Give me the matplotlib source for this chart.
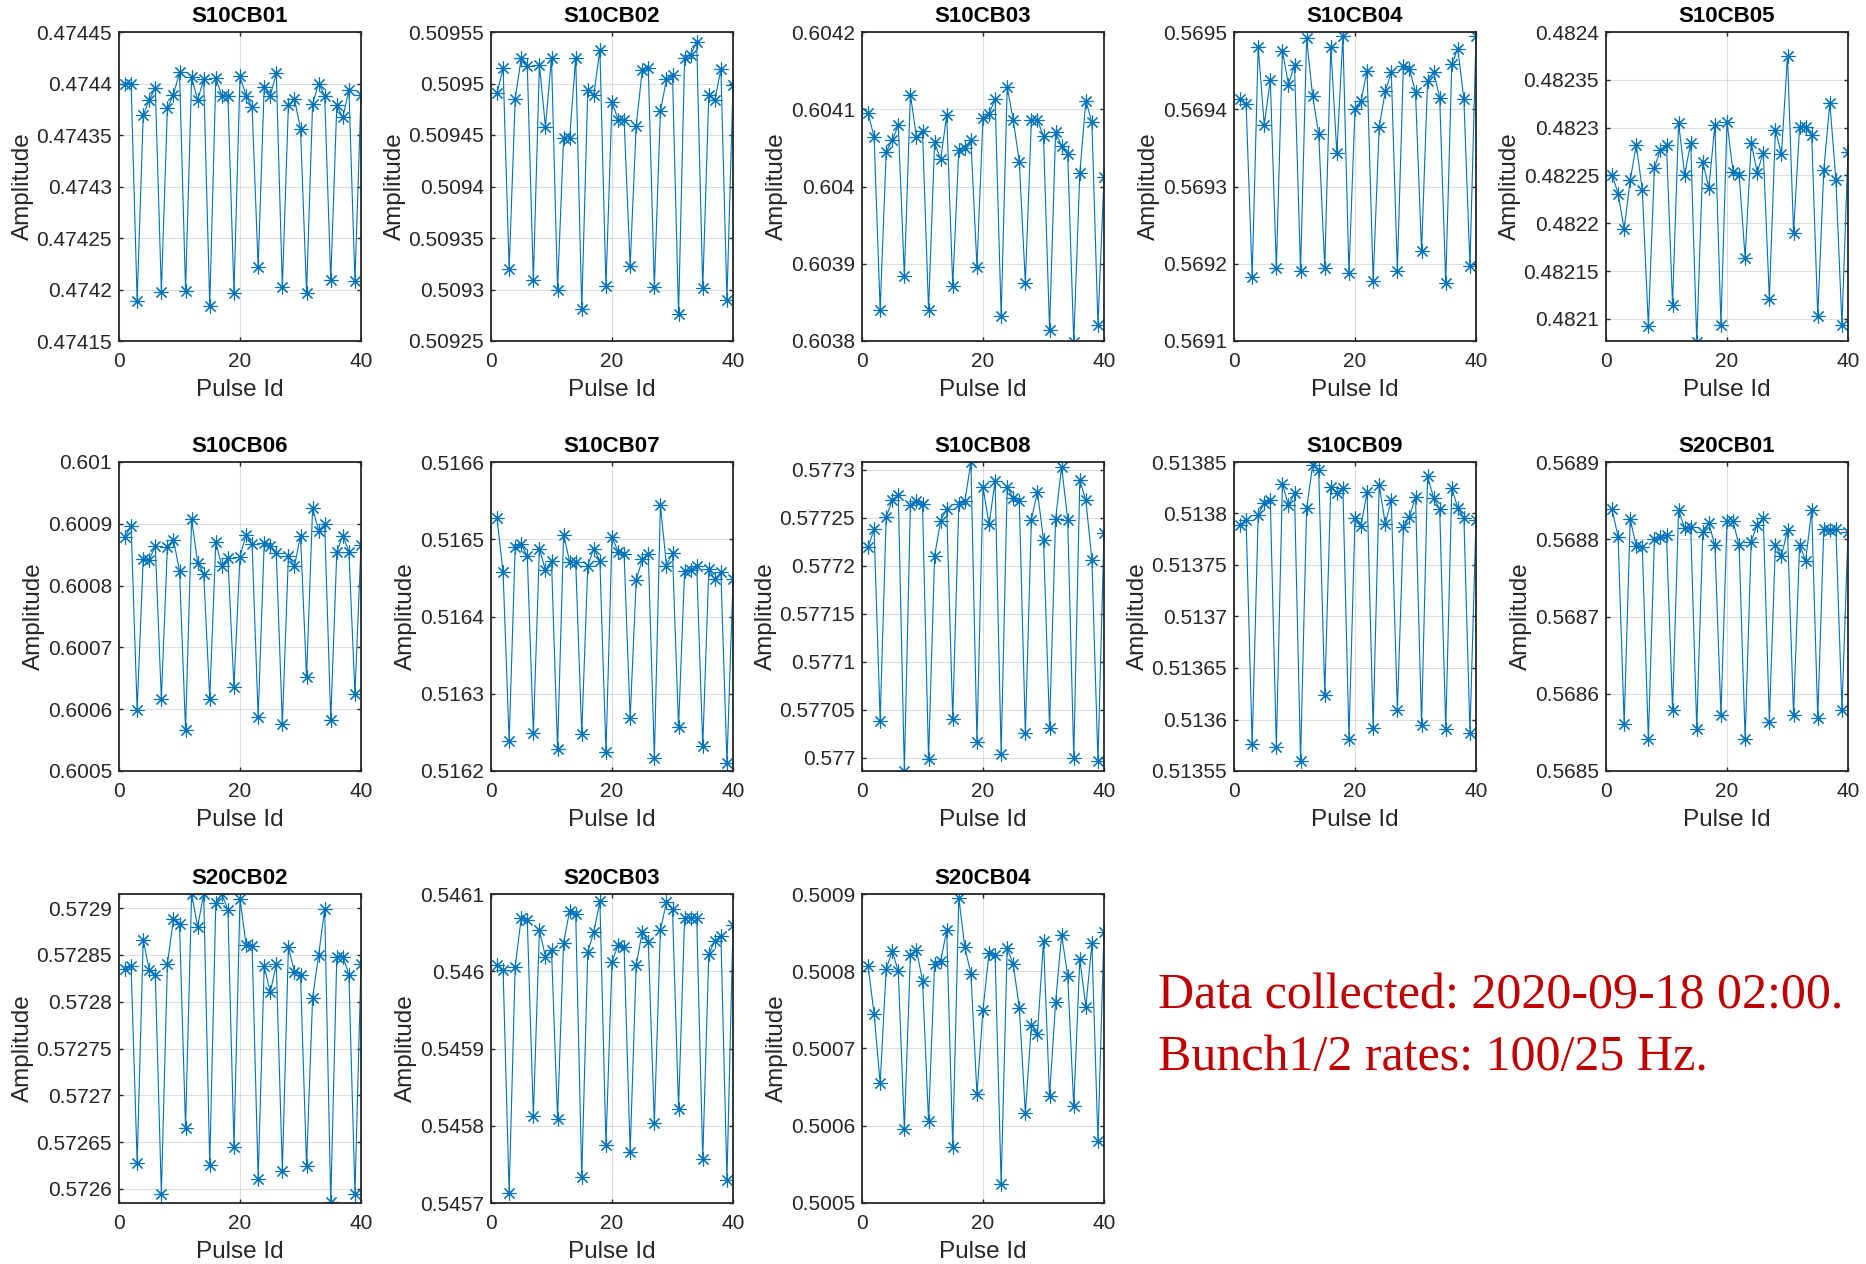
import matplotlib
matplotlib.use("Agg")
import matplotlib.pyplot as plt
import numpy as np

# pulse index
pulse_id = list(range(1, 41))

names = ["S10CB01", "S10CB02", "S10CB03", "S10CB04", "S10CB05",
         "S10CB06", "S10CB07", "S10CB08", "S10CB09", "S20CB01",
         "S20CB02", "S20CB03", "S20CB04"]

s10cb01 = [0.47440, 0.47440, 0.474189, 0.474369, 0.474384, 0.474396, 0.474198, 0.474376, 0.474389, 0.474411,
           0.474199, 0.474406, 0.474384, 0.474404, 0.474184, 0.474405, 0.474388, 0.474388, 0.474197, 0.474407,
           0.474388, 0.474377, 0.474222, 0.474397, 0.474388, 0.474410, 0.474202, 0.474379, 0.474385, 0.474356,
           0.474197, 0.474380, 0.474400, 0.474388, 0.474209, 0.474379, 0.474367, 0.474394, 0.474208, 0.474389]
s10cb02 = [0.509491, 0.509515, 0.509320, 0.509485, 0.509525, 0.509517, 0.509309, 0.509518, 0.509458, 0.509525,
           0.509300, 0.509447, 0.509447, 0.509525, 0.509281, 0.509494, 0.509489, 0.509533, 0.509303, 0.509482,
           0.509465, 0.509465, 0.509323, 0.509459, 0.509513, 0.509515, 0.509302, 0.509473, 0.509504, 0.509508,
           0.509276, 0.509525, 0.509528, 0.509540, 0.509301, 0.509489, 0.509484, 0.509514, 0.509290, 0.509499]
s10cb03 = [0.604095, 0.604064, 0.603840, 0.604045, 0.604060, 0.604079, 0.603884, 0.604119, 0.604064, 0.604072,
           0.603840, 0.604057, 0.604035, 0.604092, 0.603871, 0.604047, 0.604050, 0.604060, 0.603896, 0.604089,
           0.604094, 0.604113, 0.603832, 0.604129, 0.604086, 0.604032, 0.603875, 0.604086, 0.604086, 0.604065,
           0.603814, 0.604071, 0.604052, 0.604042, 0.603799, 0.604017, 0.604111, 0.604083, 0.603821, 0.604012]
s10cb04 = [0.569413, 0.569407, 0.569183, 0.569481, 0.569380, 0.569438, 0.569194, 0.569476, 0.569432, 0.569457,
           0.569190, 0.569492, 0.569417, 0.569368, 0.569195, 0.569481, 0.569343, 0.569495, 0.569188, 0.569400,
           0.569411, 0.569450, 0.569178, 0.569377, 0.569423, 0.569448, 0.569191, 0.569456, 0.569452, 0.569422,
           0.569216, 0.569437, 0.569448, 0.569415, 0.569175, 0.569459, 0.569478, 0.569413, 0.569197, 0.569495]
s10cb05 = [0.482251, 0.482231, 0.482194, 0.482245, 0.482282, 0.482235, 0.482093, 0.482258, 0.482277, 0.482282,
           0.482115, 0.482305, 0.482251, 0.482284, 0.482076, 0.482264, 0.482237, 0.482303, 0.482094, 0.482306,
           0.482254, 0.482251, 0.482164, 0.482284, 0.482253, 0.482274, 0.482121, 0.482298, 0.482272, 0.482375,
           0.482190, 0.482301, 0.482301, 0.482292, 0.482103, 0.482256, 0.482326, 0.482245, 0.482094, 0.482275]
s10cb06 = [0.600879, 0.600896, 0.600599, 0.600843, 0.600842, 0.600864, 0.600616, 0.600863, 0.600874, 0.600824,
           0.600567, 0.600908, 0.600837, 0.600819, 0.600617, 0.600870, 0.600831, 0.600845, 0.600636, 0.600847,
           0.600882, 0.600867, 0.600588, 0.600869, 0.600864, 0.600852, 0.600576, 0.600848, 0.600831, 0.600881,
           0.600652, 0.600925, 0.600889, 0.600899, 0.600582, 0.600855, 0.600881, 0.600855, 0.600625, 0.600865]
s10cb07 = [0.516527, 0.516457, 0.516239, 0.516490, 0.516494, 0.516478, 0.516249, 0.516488, 0.516460, 0.516472,
           0.516228, 0.516506, 0.516471, 0.516470, 0.516248, 0.516466, 0.516488, 0.516472, 0.516224, 0.516503,
           0.516484, 0.516481, 0.516268, 0.516447, 0.516474, 0.516481, 0.516217, 0.516544, 0.516466, 0.516482,
           0.516257, 0.516459, 0.516460, 0.516466, 0.516232, 0.516461, 0.516448, 0.516457, 0.516210, 0.516448]
s10cb08 = [0.577219, 0.577238, 0.577038, 0.577251, 0.577268, 0.577274, 0.576986, 0.577263, 0.577267, 0.577264,
           0.576998, 0.577210, 0.577247, 0.577259, 0.577040, 0.577264, 0.577267, 0.577308, 0.577016, 0.577282,
           0.577243, 0.577288, 0.577004, 0.577282, 0.577270, 0.577267, 0.577026, 0.577248, 0.577277, 0.577227,
           0.577031, 0.577249, 0.577303, 0.577248, 0.577000, 0.577289, 0.577268, 0.577206, 0.576996, 0.577234]
s10cb09 = [0.513789, 0.513794, 0.513576, 0.513799, 0.513810, 0.513813, 0.513573, 0.513829, 0.513808, 0.513820,
           0.513560, 0.513805, 0.513847, 0.513842, 0.513624, 0.513826, 0.513820, 0.513825, 0.513581, 0.513796,
           0.513788, 0.513821, 0.513592, 0.513828, 0.513790, 0.513813, 0.513609, 0.513787, 0.513797, 0.513816,
           0.513595, 0.513836, 0.513815, 0.513804, 0.513591, 0.513825, 0.513805, 0.513796, 0.513587, 0.513794]
s20cb01 = [0.568839, 0.568803, 0.568561, 0.568826, 0.568791, 0.568790, 0.568541, 0.568800, 0.568803, 0.568805,
           0.568579, 0.568838, 0.568814, 0.568816, 0.568555, 0.568809, 0.568821, 0.568792, 0.568573, 0.568823,
           0.568823, 0.568792, 0.568541, 0.568797, 0.568819, 0.568827, 0.568564, 0.568793, 0.568778, 0.568812,
           0.568572, 0.568793, 0.568772, 0.568838, 0.568568, 0.568813, 0.568812, 0.568813, 0.568579, 0.568809]
s20cb02 = [0.572835, 0.572838, 0.572628, 0.572866, 0.572834, 0.572829, 0.572595, 0.572840, 0.572888, 0.572883,
           0.572665, 0.572915, 0.572880, 0.572915, 0.572626, 0.572905, 0.572915, 0.572898, 0.572645, 0.572910,
           0.572861, 0.572860, 0.572611, 0.572838, 0.572810, 0.572840, 0.572619, 0.572858, 0.572832, 0.572829,
           0.572625, 0.572804, 0.572850, 0.572899, 0.572586, 0.572848, 0.572848, 0.572829, 0.572595, 0.572840]
s20cb03 = [0.546008, 0.546001, 0.545713, 0.546006, 0.546069, 0.546066, 0.545813, 0.546053, 0.546019, 0.546028,
           0.545809, 0.546037, 0.546078, 0.546074, 0.545734, 0.546025, 0.546051, 0.546091, 0.545775, 0.546012,
           0.546034, 0.546031, 0.545766, 0.546008, 0.546051, 0.546038, 0.545803, 0.546054, 0.546089, 0.546080,
           0.545822, 0.546069, 0.546069, 0.546069, 0.545757, 0.546022, 0.546039, 0.546046, 0.545730, 0.546060]
s20cb04 = [0.500807, 0.500745, 0.500655, 0.500803, 0.500826, 0.500800, 0.500596, 0.500821, 0.500828, 0.500788,
           0.500606, 0.500810, 0.500813, 0.500853, 0.500572, 0.500895, 0.500831, 0.500797, 0.500641, 0.500750,
           0.500824, 0.500821, 0.500525, 0.500830, 0.500809, 0.500753, 0.500616, 0.500731, 0.500719, 0.500839,
           0.500638, 0.500760, 0.500847, 0.500794, 0.500625, 0.500816, 0.500754, 0.500836, 0.500580, 0.500851]

series = [s10cb01, s10cb02, s10cb03, s10cb04, s10cb05, s10cb06, s10cb07,
          s10cb08, s10cb09, s20cb01, s20cb02, s20cb03, s20cb04]

# y limits and tick step, as matlab picked them
ylims = [(0.47415, 0.47445), (0.50925, 0.50955), (0.6038, 0.6042), (0.5691, 0.5695),
         (0.482077, 0.4824), (0.6005, 0.601), (0.5162, 0.5166), (0.576986, 0.577308),
         (0.51355, 0.51385), (0.5685, 0.5689), (0.572585, 0.572915), (0.5457, 0.5461),
         (0.5005, 0.5009)]
ysteps = [5e-5, 5e-5, 1e-4, 1e-4, 5e-5, 1e-4, 1e-4, 5e-5, 5e-5, 1e-4, 5e-5, 1e-4, 1e-4]

note_lines = ["Data collected: 2020-09-18 02:00.", "Bunch1/2 rates: 100/25 Hz."]

plt.rcParams['font.family'] = ['Liberation Sans', 'DejaVu Sans']

W, H = 1866, 1264
fig = plt.figure(figsize=(W / 100, H / 100), dpi=100)

col_left = [119, 491, 862, 1234, 1606]
row_top = [32, 462, 894]
aw, ah = 242, 309
blue = '#0072BD'
dark = '#262626'

for i, (name, vals) in enumerate(zip(names, series)):
    r, c = divmod(i, 5)
    ax = fig.add_axes([col_left[c] / W, 1 - (row_top[r] + ah) / H, aw / W, ah / H])
    ax.plot(pulse_id, vals, color=blue, lw=0.8, marker=(8, 2, 0), ms=10, mew=0.8)
    lo, hi = ylims[i]
    step = ysteps[i]
    k0 = np.ceil(lo / step - 1e-6)
    k1 = np.floor(hi / step + 1e-6)
    yt = np.round(np.arange(k0, k1 + 1) * step, 6)
    ax.set_yticks(yt)
    ax.set_yticklabels(['{:.10g}'.format(v) for v in yt])
    ax.set_ylim(lo, hi)
    ax.set_xlim(0, 40)
    ax.set_xticks([0, 20, 40])
    ax.grid(True, color=dark, alpha=0.15, lw=0.8)
    ax.set_axisbelow(True)
    ax.tick_params(direction='in', top=True, right=True, length=3, width=1,
                   labelsize=15, colors=dark)
    ax.tick_params(axis='x', pad=8)
    ax.tick_params(axis='y', pad=5)
    for sp in ax.spines.values():
        sp.set_color(dark)
        sp.set_linewidth(1.3)
    ax.set_title(name, fontsize=16, fontweight='bold', color='black', pad=7)
    ax.set_xlabel('Pulse Id', fontsize=17.5, color=dark, labelpad=6)
    ax.set_ylabel('Amplitude', fontsize=17.5, color=dark, labelpad=2)

fig.text(1158 / W, 1 - 996 / H, note_lines[0], fontsize=36, color='#C00000',
         family='Liberation Serif', va='center', ha='left')
fig.text(1158 / W, 1 - 1058 / H, note_lines[1], fontsize=36, color='#C00000',
         family='Liberation Serif', va='center', ha='left')

fig.savefig('out.png', dpi=100)
